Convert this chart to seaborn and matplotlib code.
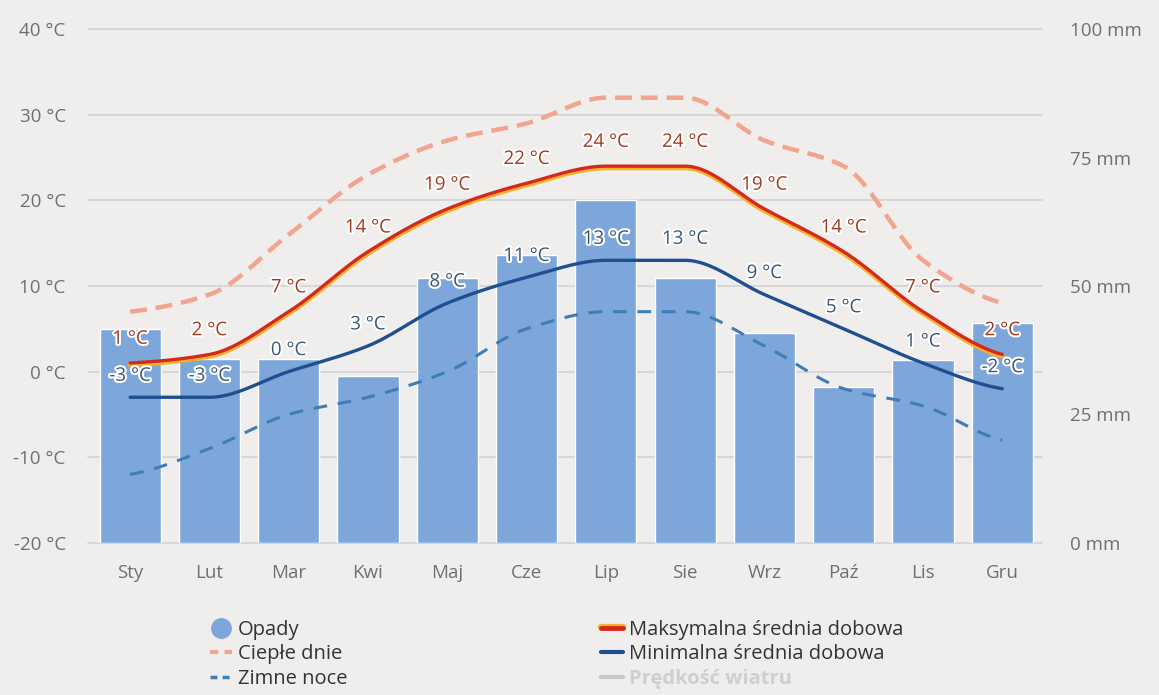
import numpy as np
import pandas as pd
import matplotlib
matplotlib.use("Agg")
import matplotlib.pyplot as plt
import matplotlib.patheffects as pe
from matplotlib.lines import Line2D
import seaborn as sns

months = ["Sty", "Lut", "Mar", "Kwi", "Maj", "Cze", "Lip", "Sie", "Wrz", "Paź", "Lis", "Gru"]
opady = [41.6, 35.8, 35.8, 32.5, 51.6, 56.0, 66.7, 51.6, 40.9, 30.4, 35.6, 42.8]
t_max = [1, 2, 7, 14, 19, 22, 24, 24, 19, 14, 7, 2]
t_min = [-3, -3, 0, 3, 8, 11, 13, 13, 9, 5, 1, -2]
cieple_dnie = [7, 9, 16, 23, 27, 29, 32, 32, 27, 24, 13, 8]
zimne_noce = [-12, -9, -5, -3, 0, 5, 7, 7, 3, -2, -4, -8]

temp_ticks = [-20, -10, 0, 10, 20, 30, 40]
mm_ticks = [0, 25, 50, 75, 100]

BG = "#efeeec"
BAR = "#7da7db"
RED = "#d42a1e"
BLUE = "#1f4f8f"
SALMON = "#f2a58e"
LBLUE = "#3f7db5"


def smooth(y, n=40):
    # monotone cubic (pchip-like) just for drawing the curve through the points
    y = np.asarray(y, dtype=float)
    d = np.diff(y)
    m = np.zeros_like(y)
    for k in range(1, len(y) - 1):
        if d[k - 1] * d[k] > 0:
            m[k] = 2.0 / (1.0 / d[k - 1] + 1.0 / d[k])
    m[0], m[-1] = d[0] * 0.5, d[-1] * 0.5
    xs, ys = [], []
    for k in range(len(y) - 1):
        t = np.linspace(0, 1, n, endpoint=(k == len(y) - 2))
        h00 = 2 * t**3 - 3 * t**2 + 1
        h10 = t**3 - 2 * t**2 + t
        h01 = -2 * t**3 + 3 * t**2
        h11 = t**3 - t**2
        xs.append(k + t)
        ys.append(h00 * y[k] + h10 * m[k] + h01 * y[k + 1] + h11 * m[k + 1])
    return np.concatenate(xs), np.concatenate(ys)


sns.set_style("white")
plt.rcParams["font.family"] = ["Open Sans", "DejaVu Sans"]

fig = plt.figure(figsize=(11.59, 6.95), dpi=100, facecolor=BG)
ax2 = fig.add_axes([0.076, 0.219, 0.823, 0.739])
ax1 = ax2.twinx()
ax1.set_zorder(ax2.get_zorder() + 1)
ax1.patch.set_visible(False)
ax2.set_facecolor(BG)

df = pd.DataFrame({"miesiac": months, "opady": opady})
sns.barplot(data=df, x="miesiac", y="opady", color=BAR, saturation=1,
            width=0.77, ax=ax2, zorder=2)
ax2.set_ylim(0, 100)
ax2.set_xlim(-0.53, 11.5)
ax2.yaxis.remove_overlapping_locs = False
ax2.set_yticks(mm_ticks)
ax2.set_yticklabels([f"{v} mm" for v in mm_ticks])
ax2.set_yticks([(t + 20) * 100 / 60 for t in temp_ticks], minor=True)
ax2.grid(which="minor", axis="y", color="#d3d3d3", lw=1.2, zorder=0)
for tk in ax2.yaxis.get_minor_ticks():
    tk.gridline.set_clip_on(False)
ax2.set_axisbelow(True)
ax2.yaxis.tick_right()
ax2.tick_params(axis="y", which="both", length=0, pad=20, labelsize=13.5, labelcolor="#707070")
ax2.tick_params(axis="x", length=0, pad=15, labelsize=13.5, labelcolor="#707070")
ax2.set_xlabel("")
ax2.set_ylabel("")

ax1.set_ylim(-20, 40)
ax1.yaxis.tick_left()
ax1.set_yticks(temp_ticks)
ax1.set_yticklabels([f"{t} °C" for t in temp_ticks])
ax1.tick_params(axis="y", length=0, pad=16, labelsize=13.5, labelcolor="#707070")

for a in (ax1, ax2):
    for s in a.spines.values():
        s.set_visible(False)

x, y = smooth(cieple_dnie)
sns.lineplot(x=x, y=y, ax=ax1, color=SALMON, lw=3.2, linestyle=(0, (3.8, 2)), sort=False)
x, y = smooth(zimne_noce)
sns.lineplot(x=x, y=y, ax=ax1, color=LBLUE, lw=2.2, linestyle=(0, (4.5, 3.5)), sort=False)
x, y = smooth(t_min)
sns.lineplot(x=x, y=y, ax=ax1, color=BLUE, lw=2.4, sort=False)
x, y = smooth(t_max)
sns.lineplot(x=x, y=y, ax=ax1, color=RED, lw=2.4, sort=False,
             path_effects=[pe.Stroke(linewidth=3.6, foreground="#f7b02a", offset=(0, -1.2)), pe.Normal()])

halo = [pe.withStroke(linewidth=3, foreground="white")]
for i, v in enumerate(t_max):
    ax1.annotate(f"{v} °C", (i, v), xytext=(0, 11), textcoords="offset points",
                 ha="center", va="bottom", fontsize=13.5, color="#a2381f", path_effects=halo)
for i, v in enumerate(t_min):
    ax1.annotate(f"{v} °C", (i, v), xytext=(0, 9), textcoords="offset points",
                 ha="center", va="bottom", fontsize=13.5, color="#3a5577", path_effects=halo)

handles = [
    Line2D([], [], marker="o", ls="none", markersize=14, color=BAR),
    Line2D([], [], color=SALMON, lw=3, linestyle=(0, (2, 1.5))),
    Line2D([], [], color=LBLUE, lw=2.5, linestyle=(0, (2, 1.5))),
    Line2D([], [], color=RED, lw=3.5, path_effects=[pe.Stroke(linewidth=4.5, foreground="#f7b02a", offset=(0, 1)), pe.Normal()]),
    Line2D([], [], color=BLUE, lw=3),
    Line2D([], [], color="#c8c8c8", lw=3),
]
labels = ["Opady", "Ciepłe dnie", "Zimne noce", "Maksymalna średnia dobowa",
          "Minimalna średnia dobowa", "Prędkość wiatru"]
leg = fig.legend(handles, labels, ncol=2, loc="upper left", bbox_to_anchor=(0.181, 0.108),
                 frameon=False, fontsize=14.5, handlelength=1.1, handletextpad=0.3,
                 columnspacing=12.6, labelspacing=0.22, borderpad=0, borderaxespad=0)
for t in leg.get_texts():
    t.set_color("#333333")
leg.get_texts()[-1].set_color("#cfcfcf")
leg.get_texts()[-1].set_fontweight("bold")

fig.savefig("out.png", dpi=100, facecolor=BG)
